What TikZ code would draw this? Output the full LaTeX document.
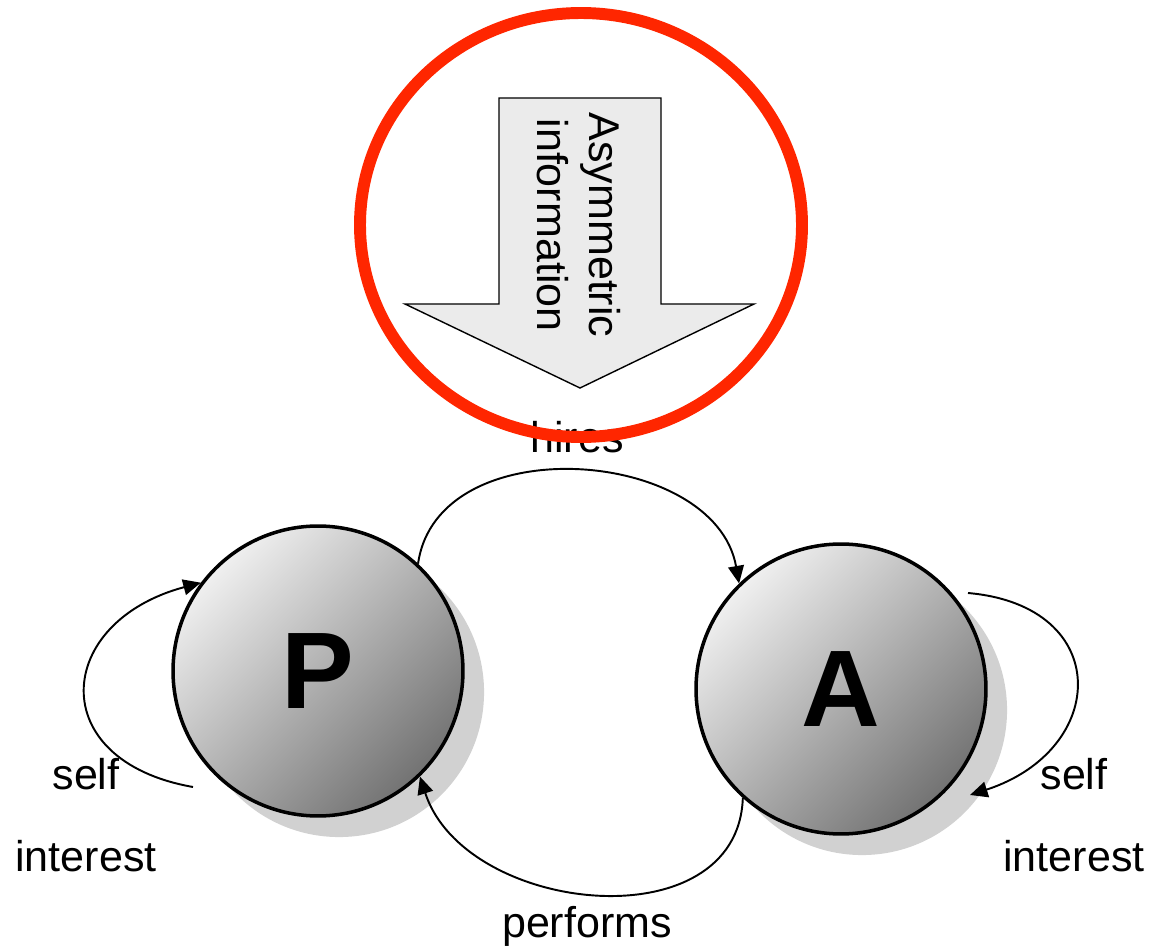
\documentclass[tikz,border=0pt]{standalone}
\usepackage{fontspec}
\setmainfont{Liberation Sans}
\usetikzlibrary{arrows.meta,shadows}
\definecolor{ringred}{RGB}{255,38,0}
\begin{document}
\begin{tikzpicture}[x=0.02cm,y=0.02cm,
  party/.style={circle,draw,line width=2pt,minimum size=5.8cm,top color=black!6,bottom color=black!55,shading angle=45,
    drop shadow={shadow xshift=12pt,shadow yshift=-12pt,fill=black!18,opacity=1},font=\fontsize{62}{62}\selectfont\bfseries},
  words/.style={font=\fontsize{24.5}{30}\selectfont},
  link/.style={line width=1.1pt,-{Triangle[length=10pt,width=9pt]}}]
\useasboundingbox (0,0) rectangle (1153,951);
\node[party] (P) at (318,280) {P};
\node[party] (A) at (841,262) {A};
\coordinate (pself) at (193,164);
\coordinate (aselfout) at (968,358);
\coordinate (aselfin) at (970,156);
\draw[link] (P.47) to[out=82,in=100,looseness=1.1] (A.134);
\draw[link] (A.228) to[out=-92,in=-72,looseness=1.15] (P.314);
\draw[link] (pself) to[out=170,in=195,looseness=1.9] (P.143);
\draw[link] (aselfout) to[out=-5,in=18,looseness=1.85] (aselfin);
\node[words,anchor=base] (hires) at (577,498) {hires};
\node[words,anchor=base] (perf) at (587,14) {performs};
\node[words,align=center,font=\fontsize{24.5}{46.5}\selectfont] (pint) at (86,136) {self\\interest};
\node[words,align=center,font=\fontsize{24.5}{46.5}\selectfont] (aint) at (1074,136) {self\\interest};
% information arrow
\draw[line width=0.8pt,fill=black!8] (499,853) -- (661,853) -- (661,647) -- (754,647) -- (580,563) -- (405,647) -- (499,647) -- cycle;
\node[words,rotate=-90,align=center] (info) at (579,726) {Asymmetric\\information};
\draw[ringred,line width=6.8pt] (581,726) ellipse [x radius=221,y radius=212];
\end{tikzpicture}
\end{document}
